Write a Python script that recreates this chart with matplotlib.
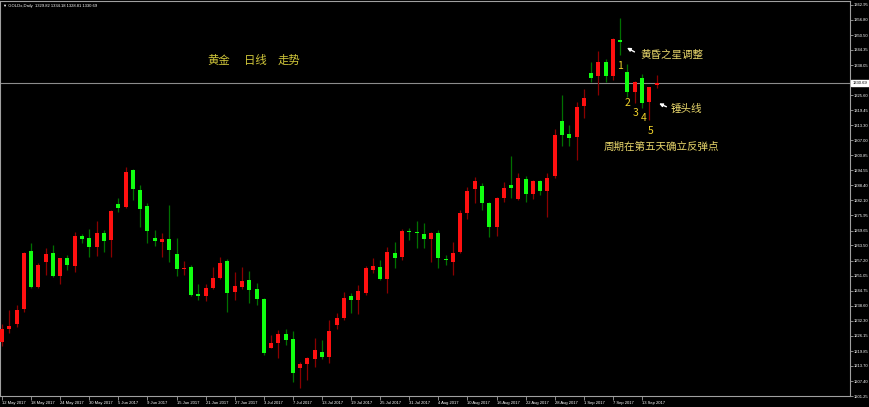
import numpy as np
import matplotlib
matplotlib.use('Agg')
import matplotlib.pyplot as plt

plt.rcParams['font.family'] = ['Noto Sans CJK SC', 'DejaVu Sans']

# GOLDx daily candles, 12 May 2017 - 14 Sep 2017
opens = [1223.5, 1229.0, 1231.0, 1237.2, 1261.2, 1246.3, 1256.7, 1260.4, 1250.9, 1258.3,
         1255.0, 1267.4, 1266.6, 1262.9, 1268.7, 1265.8, 1280.6, 1279.4, 1294.7, 1286.4,
         1279.8, 1266.6, 1264.9, 1266.2, 1260.0, 1253.8, 1254.6, 1243.4, 1242.6, 1245.9,
         1250.0, 1257.1, 1244.3, 1246.3, 1249.2, 1245.5, 1241.4, 1221.1, 1223.2, 1226.9,
         1224.8, 1212.8, 1214.5, 1216.5, 1219.4, 1217.4, 1230.6, 1233.5, 1242.6, 1241.0,
         1243.8, 1253.4, 1254.6, 1249.6, 1260.4, 1258.7, 1269.5, 1269.1, 1268.3, 1266.2,
         1268.7, 1257.9, 1256.7, 1260.8, 1276.9, 1286.9, 1288.1, 1281.1, 1271.1, 1283.1,
         1288.5, 1282.7, 1291.0, 1284.8, 1290.2, 1286.0, 1292.2, 1315.0, 1309.6, 1308.4,
         1321.2, 1334.8, 1333.6, 1339.4, 1333.6, 1348.5, 1335.2, 1327.0, 1332.8, 1322.8,
         1329.82]
highs = [1231.0, 1236.8, 1238.9, 1260.8, 1264.5, 1256.3, 1262.5, 1263.7, 1258.5, 1259.6,
         1269.1, 1268.3, 1270.3, 1273.6, 1269.9, 1278.2, 1283.1, 1295.9, 1295.1, 1288.5,
         1281.1, 1269.9, 1268.7, 1280.2, 1266.6, 1257.1, 1255.4, 1247.6, 1247.6, 1254.6,
         1258.7, 1257.9, 1252.5, 1254.6, 1252.9, 1248.0, 1241.6, 1226.5, 1228.5, 1228.9,
         1228.1, 1215.3, 1217.4, 1225.2, 1224.4, 1232.7, 1235.6, 1244.3, 1243.8, 1247.2,
         1255.0, 1258.3, 1257.5, 1262.9, 1264.9, 1270.3, 1270.7, 1273.6, 1272.8, 1268.9,
         1269.9, 1259.6, 1264.9, 1278.2, 1287.7, 1291.8, 1289.3, 1281.5, 1283.5, 1289.8,
         1300.5, 1293.5, 1292.2, 1290.6, 1290.6, 1293.5, 1311.7, 1325.7, 1313.3, 1322.8,
         1328.2, 1339.4, 1343.9, 1340.6, 1349.3, 1357.4, 1338.5, 1331.5, 1334.4, 1329.2,
         1334.18]
lows = [1222.0, 1227.3, 1229.8, 1236.0, 1245.9, 1245.9, 1251.3, 1250.5, 1247.6, 1253.4,
        1252.5, 1264.5, 1258.7, 1259.1, 1260.8, 1258.7, 1277.4, 1279.0, 1282.3, 1271.1,
        1264.5, 1263.3, 1258.7, 1256.7, 1250.9, 1251.3, 1242.6, 1241.0, 1240.5, 1245.5,
        1249.6, 1236.0, 1241.0, 1245.5, 1239.7, 1238.9, 1218.2, 1220.9, 1217.0, 1222.3,
        1207.0, 1204.6, 1207.9, 1213.2, 1216.5, 1214.9, 1229.0, 1232.7, 1235.6, 1235.1,
        1243.0, 1252.1, 1249.2, 1243.8, 1254.2, 1257.5, 1265.8, 1262.4, 1262.4, 1256.7,
        1254.2, 1255.4, 1251.3, 1260.4, 1274.4, 1281.1, 1278.2, 1267.0, 1267.4, 1281.5,
        1283.1, 1282.3, 1281.5, 1282.7, 1284.4, 1275.3, 1291.4, 1304.6, 1304.6, 1298.9,
        1316.2, 1331.1, 1325.7, 1331.1, 1331.9, 1342.3, 1324.9, 1322.4, 1320.4, 1315.4,
        1328.81]
closes = [1229.0, 1230.2, 1236.8, 1260.4, 1246.3, 1255.4, 1260.0, 1250.9, 1258.3, 1255.4,
          1267.4, 1266.2, 1262.9, 1268.7, 1265.4, 1277.8, 1279.0, 1293.9, 1286.9, 1278.6,
          1269.5, 1265.4, 1266.2, 1261.6, 1253.8, 1254.2, 1243.0, 1242.6, 1245.9, 1250.0,
          1256.3, 1243.8, 1246.7, 1248.8, 1245.1, 1241.4, 1219.0, 1223.2, 1226.9, 1224.4,
          1210.8, 1214.5, 1217.0, 1220.3, 1217.4, 1228.1, 1233.5, 1241.8, 1241.0, 1244.7,
          1254.2, 1255.0, 1249.6, 1260.8, 1258.3, 1269.5, 1269.1, 1268.7, 1266.2, 1268.7,
          1258.3, 1257.5, 1260.4, 1276.9, 1286.0, 1290.2, 1281.1, 1271.1, 1283.1, 1287.3,
          1287.3, 1291.4, 1284.8, 1290.2, 1286.0, 1291.4, 1309.2, 1309.2, 1307.9, 1320.8,
          1324.5, 1332.8, 1339.4, 1333.6, 1348.9, 1347.6, 1327.0, 1331.1, 1322.4, 1329.0,
          1330.69]

date_labels = ['12 May 2017', '18 May 2017', '24 May 2017', '30 May 2017', '5 Jun 2017',
               '9 Jun 2017', '15 Jun 2017', '21 Jun 2017', '27 Jun 2017', '3 Jul 2017',
               '7 Jul 2017', '13 Jul 2017', '19 Jul 2017', '25 Jul 2017', '31 Jul 2017',
               '4 Aug 2017', '10 Aug 2017', '16 Aug 2017', '22 Aug 2017', '28 Aug 2017',
               '1 Sep 2017', '7 Sep 2017', '13 Sep 2017']
price_ticks = [1362.95, 1356.80, 1350.50, 1344.35, 1338.05, 1325.60, 1319.45, 1313.30,
               1307.00, 1300.85, 1294.55, 1288.40, 1282.10, 1275.95, 1269.65, 1263.50,
               1257.20, 1251.05, 1244.75, 1238.60, 1232.30, 1226.15, 1219.85, 1213.70,
               1207.40, 1201.25]

o = np.array(opens)
h = np.array(highs)
l = np.array(lows)
c = np.array(closes)
x = np.arange(len(o))
up = c >= o

small = 'Liberation Sans'

fig = plt.figure(figsize=(8.7, 4.07), dpi=100, facecolor='black')
ax = fig.add_axes([0.0, 11 / 407, 850 / 870, 395 / 407], facecolor='black')

# wicks first, then bodies
ax.vlines(x[up], l[up], h[up], color='#8a0000', lw=0.9, zorder=2)
ax.vlines(x[~up], l[~up], h[~up], color='#007000', lw=0.9, zorder=2)
body_lo = np.minimum(o, c)
body_h = np.maximum(np.abs(c - o), 0.45)
ax.bar(x[up], body_h[up], bottom=body_lo[up], width=0.55, color='#ff1010', zorder=3)
ax.bar(x[~up], body_h[~up], bottom=body_lo[~up], width=0.55, color='#10ff10', zorder=3)

# last price line + label box
ax.axhline(c[-1], color='#8c8c8c', lw=0.8, zorder=1)
ax.text(1.003, c[-1], '%.2f' % c[-1], transform=ax.get_yaxis_transform(),
        fontsize=3.0, color='black', va='center', ha='left', family=small,
        bbox=dict(boxstyle='square,pad=0.35', fc='white', ec='white'), clip_on=False)

ax.set_xlim(-0.28, 116.6)
ax.set_ylim(1201.25, 1364.6)

ax.set_xticks(np.arange(len(date_labels)) * 4)
ax.set_xticklabels(date_labels, ha='left', family=small)
ax.set_yticks(price_ticks)
ax.set_yticklabels(['%.2f' % v for v in price_ticks], family=small)
ax.yaxis.tick_right()
ax.tick_params(axis='x', direction='out', length=3, pad=0.8, width=0.6,
               color='#a0a0a0', labelcolor='white', labelsize=3.0)
ax.tick_params(axis='y', direction='out', length=2, pad=1, width=0.6,
               color='#a0a0a0', labelcolor='white', labelsize=3.0)
for lab in ax.get_xticklabels():
    lab.set_x(lab.get_position()[0])
for s in ax.spines.values():
    s.set_color('#a0a0a0')
    s.set_linewidth(0.8)

# header
ax.text(0.004, 0.993, '\u25bc GOLDx,Daily  %.2f %.2f %.2f %.2f' % (o[-1], h[-1], l[-1], c[-1]),
        transform=ax.transAxes, fontsize=3.0, color='white', va='top', ha='left',
        family=['Liberation Sans', 'DejaVu Sans'])

# title
title_col = '#cfc53a'
for xt, t in [(28.3, '黄金'), (33.3, '日线'), (37.9, '走势')]:
    ax.text(xt, 1340.2, t, fontsize=8.2, color=title_col, va='center', ha='left')

# annotations
note_col = '#e6d46a'
num_col = '#f0d22a'
for i, (xi, yi) in enumerate([(85.0, 1337.9), (86.0, 1322.5), (87.1, 1318.4),
                              (88.2, 1316.3), (89.2, 1311.0)]):
    ax.text(xi, yi, str(i + 1), fontsize=7.5, color=num_col, ha='center', va='center')

arrow = dict(arrowstyle='-|>', color='white', lw=1.0, mutation_scale=5)
ax.annotate('', xy=(85.6, 1345.8), xytext=(87.3, 1343.0), arrowprops=arrow)
ax.text(87.8, 1342.3, '黄昏之星调整', fontsize=7.6, color=note_col, va='center', ha='left')
ax.annotate('', xy=(90.0, 1322.7), xytext=(91.7, 1320.4), arrowprops=arrow)
ax.text(91.9, 1319.9, '锤头线', fontsize=7.6, color=note_col, va='center', ha='left')
ax.text(90.7, 1304.1, '周期在第五天确立反弹点', fontsize=7.6, color=note_col,
        va='center', ha='center')

fig.savefig('out.png', dpi=100, facecolor='black')
